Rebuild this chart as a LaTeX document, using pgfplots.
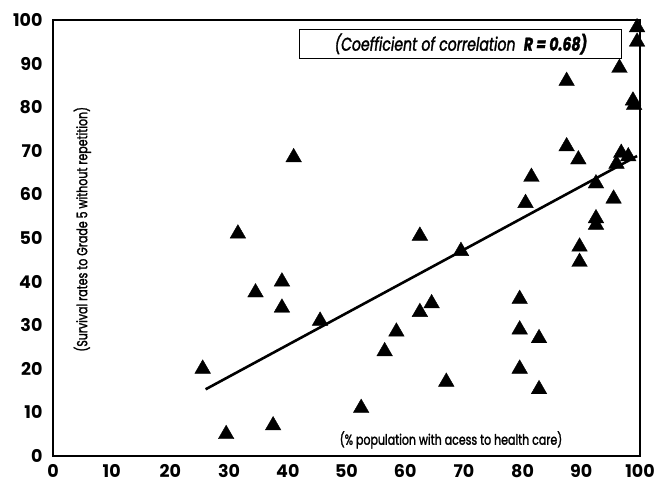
\documentclass[border=0pt]{standalone}
\usepackage{pgfplots}
\pgfplotsset{compat=1.18}
\usepackage{fontspec}
\setmainfont{Poppins}
\newfontfamily\labfont{Poppins}[FakeStretch=0.76,FakeBold=1.6]

\pgfplotstableread{
x y
25.5 20
29.5 5
31.5 51
34.5 37.5
37.5 7
39 40
39 34
41 68.5
45.5 31
52.5 11
56.5 24
58.5 28.5
62.5 50.5
62.5 33
64.5 35
67 17
69.5 47
79.5 36
79.5 29
79.5 20
80.5 58
81.5 64
82.8 27
82.8 15.3
87.5 86
87.5 71
89.5 68
89.7 48
89.7 44.5
92.5 62.5
92.5 54.5
92.5 53
95.5 59
96.5 89
96 67
96.8 69.5
98 68.7
98.8 81.5
99 80.5
99.5 98.3
99.5 95
}\countries

\begin{document}
\begin{tikzpicture}[x=1pt,y=1pt]
\begin{axis}[at={(0,0)},anchor=south west,scale only axis,
  width=587pt,height=436pt,
  xmin=0,xmax=100,ymin=0,ymax=100,
  xtick={0,10,...,100},ytick={0,10,...,100},
  major tick length=0pt,
  axis line style={line width=2.2pt},
  /pgf/number format/assume math mode=true,
  tick label style={font=\fontsize{17.5}{17.5}\selectfont\bfseries},
  yticklabel style={xshift=-7pt},
  xticklabel style={yshift=-5pt},
  clip=false]
\addplot[only marks,mark=triangle*,mark size=9pt,black] table {\countries};
\addplot[black,line width=2.6pt] coordinates {(26,15.3) (99.5,68.8)};
\draw[line width=1.3pt] (axis cs:42,91.2) rectangle (axis cs:96.9,97.9);
\node[font=\labfont\fontsize{18.5}{18.5}\selectfont\itshape] at (axis cs:69.5,94.5)
  {(Coefficient of correlation\ \ \textbf{R = 0.68)}};
\node[font=\labfont\fontsize{14.5}{14.5}\selectfont,rotate=90] at (axis cs:5,52)
  {(Survival rates to Grade 5 without repetition)};
\node[font=\labfont\fontsize{14.5}{14.5}\selectfont] at (axis cs:67.8,3.7)
  {(\% population with acess to health care)};
\end{axis}
\pgfresetboundingbox
\useasboundingbox (-53,-27) rectangle (617,456);
\end{tikzpicture}
\end{document}
